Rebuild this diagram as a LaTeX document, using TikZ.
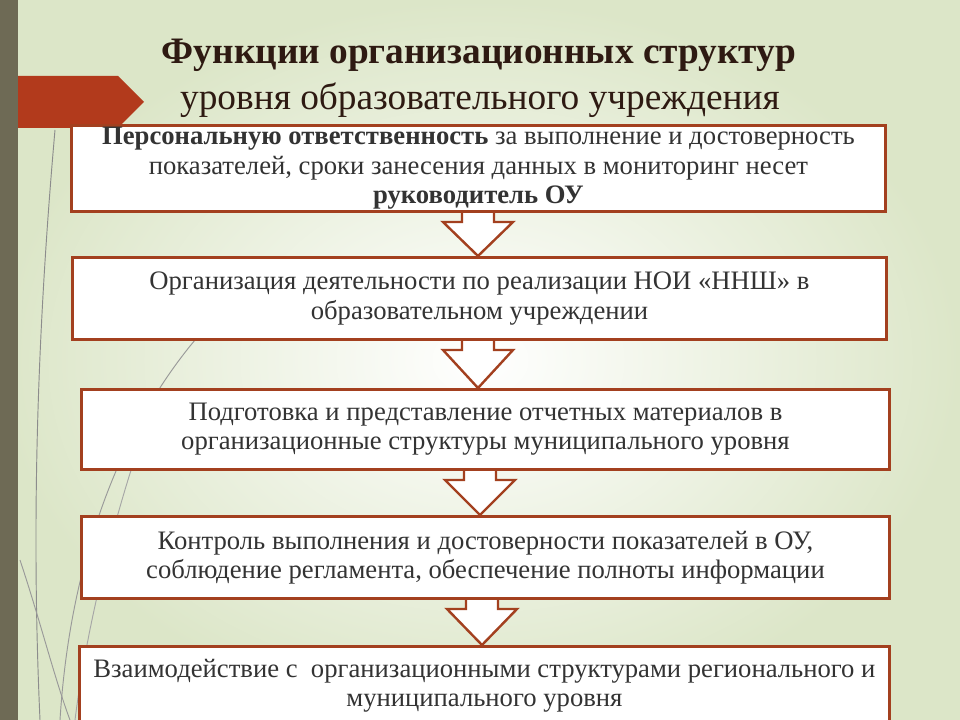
\documentclass[tikz,border=0pt]{standalone}
\usepackage{fontspec}
\setmainfont{Liberation Serif}
\begin{document}
\begin{tikzpicture}[x=0.75pt,y=-0.75pt,
  box/.style={draw=boxred,line width=2.2pt,fill=white,inner sep=0pt,align=center,font=\fontsize{20}{22}\selectfont,text=black!80},
  barrow/.style={draw=boxred,line width=1.8pt,fill=white,line join=miter}]
\definecolor{boxred}{HTML}{A3401F}
\definecolor{bannerred}{HTML}{B23A1C}
\definecolor{barcol}{HTML}{6E6A55}
\definecolor{bgout}{HTML}{DCE6C8}
\definecolor{titlecol}{HTML}{2E1A12}
\useasboundingbox (0,0) rectangle (960,720);
\shade[inner color=white,outer color=bgout] (0,0) rectangle (960,720);
% grass lines
\draw[black!45,line width=0.7pt] (40,720) .. controls (30,500) and (40,300) .. (55,130);
\draw[black!40,line width=0.7pt] (60,720) .. controls (70,560) and (120,430) .. (195,340);
\draw[black!35,line width=0.7pt] (75,720) .. controls (90,600) and (130,460) .. (160,390);
\draw[black!40,line width=0.7pt] (20,560) .. controls (40,620) and (55,680) .. (70,720);
% banner
\fill[bannerred] (0,76) -- (118,76) -- (144,102) -- (118,128) -- (0,128) -- cycle;
\fill[barcol] (0,0) rectangle (18,720);
% title
\node[font=\fontsize{28}{32}\selectfont\bfseries,text=titlecol] (t1) at (479,55) {Функции организационных структур};
\node[font=\fontsize{28}{32}\selectfont,text=titlecol] (t2) at (480,100) {уровня образовательного учреждения};
% block arrows (drawn first, boxes cover their ends)
\foreach \ya/\yb/\cx in {210/256/478,338/388/478,468/515/480,597/645/482}{
  \draw[barrow] (\cx-16,\ya-3) -- (\cx-16,\ya+12) -- (\cx-35,\ya+12) -- (\cx,\yb) -- (\cx+35,\ya+12) -- (\cx+16,\ya+12) -- (\cx+16,\ya-3);
}
% boxes
\node[box,minimum width=814*0.75pt,minimum height=86*0.75pt,anchor=north west] (b1) at (70,124)
 {\textbf{Персональную ответственность} за выполнение и достоверность\\показателей, сроки занесения данных в мониторинг несет\\\textbf{руководитель ОУ}};
\node[box,minimum width=814*0.75pt,minimum height=82*0.75pt,anchor=north west] (b2) at (71,256)
 {Организация деятельности по реализации НОИ «ННШ» в\\образовательном учреждении};
\node[box,minimum width=808*0.75pt,minimum height=80*0.75pt,anchor=north west] (b3) at (80,388)
 {Подготовка и представление отчетных материалов в\\организационные структуры муниципального уровня};
\node[box,minimum width=808*0.75pt,minimum height=82*0.75pt,anchor=north west] (b4) at (80,515)
 {Контроль выполнения и достоверности показателей в ОУ,\\соблюдение регламента, обеспечение полноты информации};
\node[box,minimum width=810*0.75pt,minimum height=78*0.75pt,anchor=north west] (b5) at (78,645)
 {Взаимодействие с\ \ организационными структурами регионального и\\муниципального уровня};
\end{tikzpicture}
\end{document}
